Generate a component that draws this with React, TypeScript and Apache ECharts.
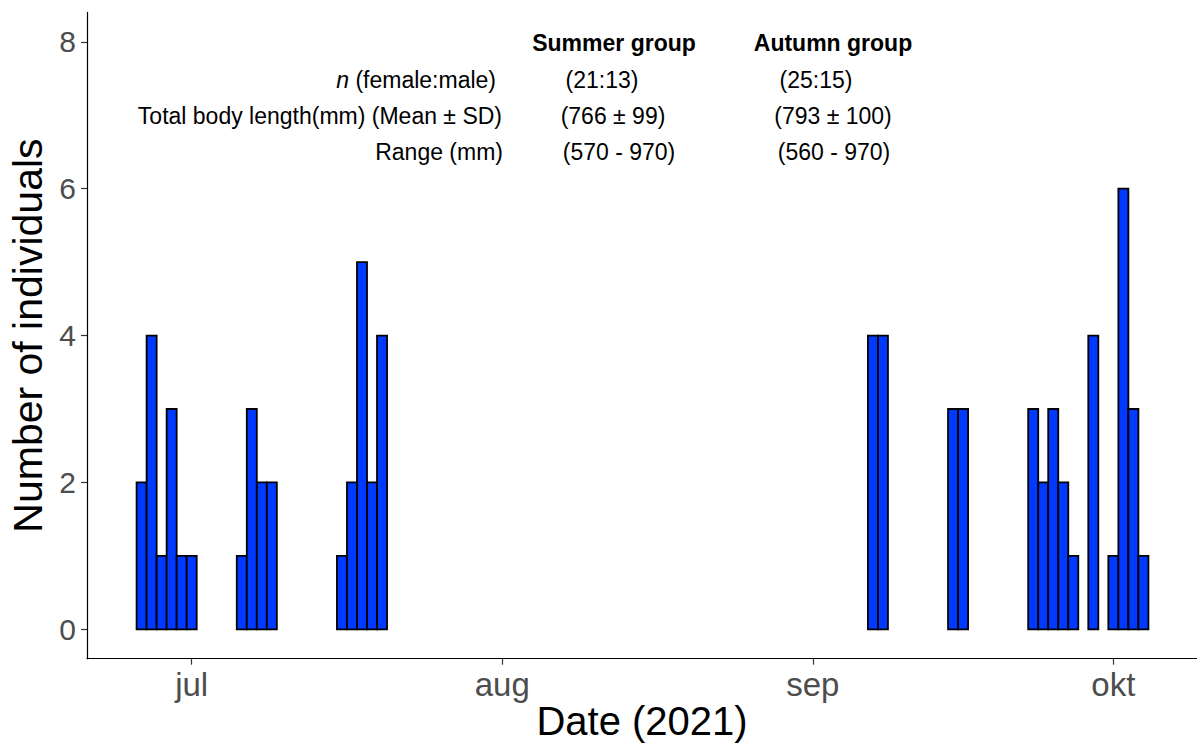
import React, { useEffect, useRef } from "react";
import * as echarts from "echarts";

// ---- data ----
const dates: string[] = [
  "2021-06-26", "2021-06-27", "2021-06-28", "2021-06-29", "2021-06-30", "2021-07-01",
  "2021-07-06", "2021-07-07", "2021-07-08", "2021-07-09",
  "2021-07-16", "2021-07-17", "2021-07-18", "2021-07-19", "2021-07-20",
  "2021-09-07", "2021-09-08",
  "2021-09-15", "2021-09-16",
  "2021-09-23", "2021-09-24", "2021-09-25", "2021-09-26", "2021-09-27",
  "2021-09-29",
  "2021-10-01", "2021-10-02", "2021-10-03", "2021-10-04",
];
const counts: number[] = [
  2, 4, 1, 3, 1, 1,
  1, 3, 2, 2,
  1, 2, 5, 2, 4,
  4, 4,
  3, 3,
  3, 2, 3, 2, 1,
  4,
  1, 6, 3, 1,
];
const monthTicks: string[] = ["2021-07-01", "2021-08-01", "2021-09-01", "2021-10-01"];
const monthNames: string[] = ["jan", "feb", "mar", "apr", "mai", "jun", "jul", "aug", "sep", "okt", "nov", "des"];
const yTicks: number[] = [0, 2, 4, 6, 8];

const groupHeaders: string[] = ["Summer group", "Autumn group"];
const rowLabels: string[] = ["n (female:male)", "Total body length(mm) (Mean ± SD)", "Range (mm)"];
const summerValues: string[] = ["(21:13)", "(766 ± 99)", "(570 - 970)"];
const autumnValues: string[] = ["(25:15)", "(793 ± 100)", "(560 - 970)"];

const DAY = 86400000;
const FONT = "'Liberation Sans', Arial, Helvetica, sans-serif";

export default function App() {
  const ref = useRef<HTMLDivElement>(null);

  useEffect(() => {
    if (!ref.current) return;
    const chart = echarts.init(ref.current, undefined, { renderer: "svg" });

    const data = dates.map((d, i) => [Date.parse(d), counts[i]]);
    const xMin = Date.parse("2021-06-20") + 0.55 * DAY;
    const xMax = xMin + 110.8 * DAY;
    const tickVals = monthTicks.map((d) => Date.parse(d));

    const rowY = [80, 116, 152];
    const rowRight = [496, 502, 503];
    const summerCx = [602, 613, 619];
    const autumnCx = [816, 833, 834];

    const graphics: any[] = [];
    graphics.push({
      type: "text", x: 614, y: 43,
      style: { text: groupHeaders[0], font: `bold 23px ${FONT}`, fill: "#000", align: "center", verticalAlign: "middle" },
    });
    graphics.push({
      type: "text", x: 833, y: 43,
      style: { text: groupHeaders[1], font: `bold 23px ${FONT}`, fill: "#000", align: "center", verticalAlign: "middle" },
    });
    rowLabels.forEach((t, i) => {
      if (i === 0) {
        graphics.push({
          type: "text", x: rowRight[i], y: rowY[i],
          style: {
            text: "{it|n}{r|" + t.slice(1) + "}",
            align: "right", verticalAlign: "middle", fill: "#000",
            rich: {
              it: { fontStyle: "italic", fontSize: 23, fontFamily: FONT, fill: "#000" },
              r: { fontSize: 23, fontFamily: FONT, fill: "#000" },
            },
          },
        });
      } else {
        graphics.push({
          type: "text", x: rowRight[i], y: rowY[i],
          style: { text: t, font: `23px ${FONT}`, fill: "#000", align: "right", verticalAlign: "middle" },
        });
      }
      graphics.push({
        type: "text", x: summerCx[i], y: rowY[i],
        style: { text: summerValues[i], font: `23px ${FONT}`, fill: "#000", align: "center", verticalAlign: "middle" },
      });
      graphics.push({
        type: "text", x: autumnCx[i], y: rowY[i],
        style: { text: autumnValues[i], font: `23px ${FONT}`, fill: "#000", align: "center", verticalAlign: "middle" },
      });
    });

    chart.setOption({
      animation: false,
      backgroundColor: "#ffffff",
      grid: { left: 87, right: 0, top: 12.4, bottom: 85.3, containLabel: false, outerBoundsMode: "none" },
      xAxis: {
        type: "value",
        min: xMin,
        max: xMax,
        name: "Date (2021)",
        nameLocation: "middle",
        nameGap: 42,
        nameMoveOverlap: false,
        nameTextStyle: { fontSize: 40, lineHeight: 40, color: "#000", fontFamily: FONT },
        axisLine: { show: true, onZero: false, lineStyle: { color: "#000", width: 1.2 } },
        axisTick: { show: true, length: 6, customValues: tickVals, lineStyle: { color: "#333", width: 1.2 } },
        axisLabel: {
          show: true,
          customValues: tickVals,
          margin: 9,
          fontSize: 33,
          color: "#4d4d4d",
          fontFamily: FONT,
          formatter: (v: number) => monthNames[new Date(v).getUTCMonth()],
        },
        splitLine: { show: false },
      },
      yAxis: {
        type: "value",
        min: -0.4,
        max: 8.4,
        name: "Number of individuals",
        nameLocation: "middle",
        nameGap: 37,
        nameTextStyle: { fontSize: 41, color: "#000", fontFamily: FONT },
        axisLine: { show: true, onZero: false, lineStyle: { color: "#000", width: 1.2 } },
        axisTick: { show: true, length: 6, customValues: yTicks, lineStyle: { color: "#333", width: 1.2 } },
        axisLabel: {
          show: true,
          customValues: yTicks,
          margin: 11,
          fontSize: 30,
          color: "#4d4d4d",
          fontFamily: FONT,
        },
        splitLine: { show: false },
      },
      series: [
        {
          type: "custom",
          data,
          encode: { x: 0, y: 1 },
          renderItem: (params: any, api: any) => {
            const x = api.value(0);
            const y = api.value(1);
            const p0 = api.coord([x - DAY / 2, y]);
            const p1 = api.coord([x + DAY / 2, 0]);
            return {
              type: "rect",
              shape: { x: p0[0], y: p0[1], width: p1[0] - p0[0], height: p1[1] - p0[1] },
              style: { fill: "#0039ff", stroke: "#000", lineWidth: 1.8 },
            };
          },
        },
      ],
      graphic: graphics,
    });

    return () => chart.dispose();
  }, []);

  return (
    <div
      ref={ref}
      style={{ position: "fixed", left: 0, top: 0, width: 1197, height: 744, background: "#fff" }}
    />
  );
}
